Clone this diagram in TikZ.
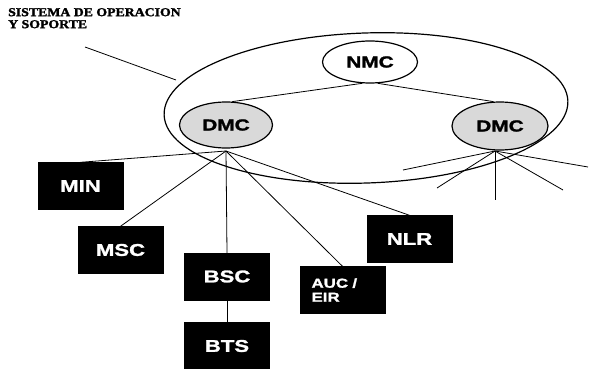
\documentclass[tikz,border=0pt]{standalone}
\usepackage{fontspec}
\setmainfont{Liberation Serif}
\newfontfamily\unitfont[FakeStretch=1.3,FakeBold=1.5]{Liberation Sans}
\newfontfamily\headfont[FakeStretch=1.15,FakeBold=2]{Liberation Serif}
\usetikzlibrary{shapes.geometric}
\tikzset{
    unit/.style={draw=black, fill=black, text=white, minimum width=85pt,
        minimum height=47pt, inner sep=0pt,
        font=\unitfont\bfseries\fontsize{17}{17}\selectfont},
    center/.style={ellipse, draw=black, very thick, inner sep=0pt,
        font=\unitfont\bfseries\fontsize{16}{16}\selectfont},
    link/.style={thick},
}
\begin{document}
\begin{tikzpicture}[x=1pt,y=-1pt]
    \useasboundingbox (0,0) rectangle (589,369);
    \node[anchor=north west, align=left, inner sep=0pt,
        font=\headfont\bfseries\fontsize{12}{12}\selectfont] (title) at (8,8)
        {SISTEMA DE OPERACION\\Y SOPORTE};
    \draw[very thick, rotate around={2:(366,108)}] (366,108) ellipse [x radius=202, y radius=75];
    \coordinate (lead) at (85,47);
    \coordinate (rim) at (176,80);
    \draw[link] (lead) -- (rim);
    \node[center, fill=white, minimum width=95pt, minimum height=42pt] (nmc) at (370,62) {NMC};
    \node[center, fill=gray!30, minimum width=93pt, minimum height=46pt] (dmcl) at (226,125) {DMC};
    \node[center, fill=gray!30, minimum width=96pt, minimum height=48pt] (dmcr) at (500,126) {DMC};
    \draw[link] (nmc.250) -- (dmcl.75);
    \draw[link] (nmc.290) -- (dmcr.105);
    \node[unit] (min) at (80.5,186) {MIN};
    \node[unit] (msc) at (120.5,250) {MSC};
    \node[unit] (bsc) at (227,276.5) {BSC};
    \node[unit] (bts) at (227,346) {BTS};
    \node[unit, align=left, text width=62pt,
        font=\unitfont\bfseries\fontsize{13}{14}\selectfont] (auc) at (342.5,290) {AUC /\\EIR};
    \node[unit] (nlr) at (409.5,239) {NLR};
    \coordinate (lhub) at (226,151);
    \draw[link] (lhub) -- (min.north);
    \draw[link] (lhub) -- (msc.north);
    \draw[link] (lhub) -- (bsc.north);
    \draw[link] (bsc.south) -- (bts.north);
    \draw[link] (lhub) -- (auc.north);
    \draw[link] (lhub) -- (nlr.north);
    \coordinate (rhub) at (495,151);
    \coordinate (ra) at (403,170);
    \coordinate (rb) at (437,188);
    \coordinate (rc) at (495,200);
    \coordinate (rd) at (563,190);
    \coordinate (re) at (588,167);
    \foreach \tip in {ra,rb,rc,rd,re}
        \draw[link] (rhub) -- (\tip);
\end{tikzpicture}
\end{document}
